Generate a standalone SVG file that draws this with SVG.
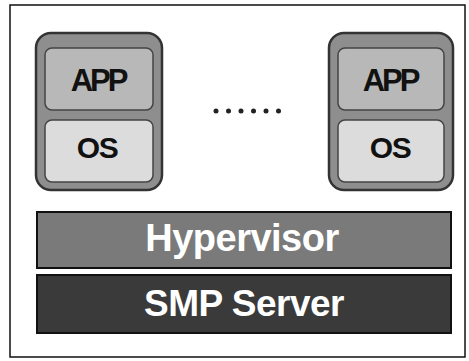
<svg xmlns="http://www.w3.org/2000/svg" width="469" height="361" viewBox="0 0 469 361">
<style>
.frame{fill:#fff;stroke:#111;stroke-width:1.5}
.vm{fill:#8e8e8e;stroke:#333;stroke-width:2.5}
.app{fill:#b8b8b8;stroke:#444;stroke-width:1.5}
.os{fill:#dcdcdc;stroke:#444;stroke-width:1.5}
.lbl{font-family:"Liberation Sans",Arial,sans-serif;font-weight:bold;text-anchor:middle}
.dark{fill:#111}
.light{fill:#fff}
.dot{fill:#222}
</style>
<rect class="frame" x="10" y="5" width="455" height="352"/>
<g id="vm1">
<rect class="vm" x="36" y="33" width="126" height="157" rx="15"/>
<rect class="app" x="45" y="48" width="108" height="62" rx="7"/>
<text class="lbl dark" x="98" y="91" font-size="31" letter-spacing="-3">APP</text>
<rect class="os" x="45" y="120" width="108" height="62" rx="7"/>
<text class="lbl dark" x="97" y="158" font-size="30" letter-spacing="-1.5">OS</text>
</g>
<g id="vm2">
<rect class="vm" x="329" y="33" width="124" height="157" rx="15"/>
<rect class="app" x="338" y="48" width="106" height="62" rx="7"/>
<text class="lbl dark" x="390" y="91" font-size="31" letter-spacing="-3">APP</text>
<rect class="os" x="338" y="120" width="106" height="62" rx="7"/>
<text class="lbl dark" x="390" y="158" font-size="30" letter-spacing="-1.5">OS</text>
</g>
<g id="dots">
<circle class="dot" cx="216" cy="111" r="2.5"/>
<circle class="dot" cx="228.5" cy="111" r="2.5"/>
<circle class="dot" cx="241" cy="111" r="2.5"/>
<circle class="dot" cx="253.5" cy="111" r="2.5"/>
<circle class="dot" cx="266" cy="111" r="2.5"/>
<circle class="dot" cx="278.5" cy="111" r="2.5"/>
</g>
<g id="hypervisor">
<rect x="37" y="212" width="414" height="56" fill="#7a7a7a" stroke="#111" stroke-width="2"/>
<text class="lbl light" x="242" y="251" font-size="38" letter-spacing="-0.5">Hypervisor</text>
</g>
<g id="smp">
<rect x="37" y="275" width="414" height="58" fill="#3a3a3a" stroke="#111" stroke-width="2"/>
<text class="lbl light" x="244" y="316" font-size="37" letter-spacing="-0.5">SMP Server</text>
</g>
<g id="connectors"/>
</svg>
